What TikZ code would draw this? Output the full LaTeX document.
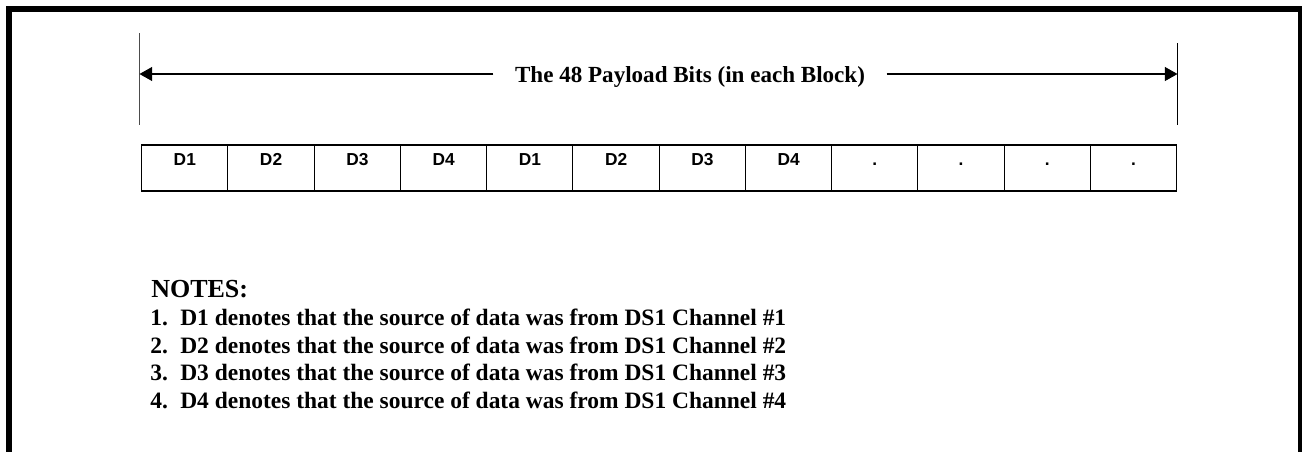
\documentclass[tikz,border=0pt]{standalone}
\usepackage{fontspec}
\setmainfont{Liberation Serif}
\newfontfamily\arialfont{Liberation Sans}
\usetikzlibrary{arrows.meta}
\begin{document}
\begin{tikzpicture}[x=0.75pt,y=-0.75pt,
  frame/.style={line width=4.5pt},
  tick/.style={line width=1pt},
  dimline/.style={line width=0.8pt},
  tip/.style={-{Triangle[length=9.5pt,width=10.5pt]}},
  cell/.style={draw,line width=0.8pt,minimum width=64.6875pt,minimum height=34.5pt,inner sep=0pt,outer sep=0pt},
  lab/.style={font=\arialfont\bfseries\fontsize{13}{15}\selectfont,anchor=base,inner sep=0pt},
  title/.style={font=\bfseries\fontsize{17.3}{20}\selectfont,anchor=base,inner xsep=16pt,inner ysep=0pt},
  notehead/.style={font=\bfseries\fontsize{19.5}{22}\selectfont,anchor=base west,inner sep=0pt},
  note/.style={font=\bfseries\fontsize{17.6}{20}\selectfont,anchor=base west,inner sep=0pt}]
\useasboundingbox (0,0) rectangle (1302,451);
\clip (0,0) rectangle (1302,451);
% outer frame
\draw[frame] (9,9) rectangle (1301,480);
% extent ticks
\coordinate (lt) at (139.5,33);
\coordinate (lb) at (139.5,125);
\coordinate (rt) at (1177.5,43);
\coordinate (rb) at (1177.5,125);
\coordinate (la) at (139.5,74);
\coordinate (ra) at (1177.5,74);
\draw[tick,black!70] (lt) -- (lb);
\draw[tick] (rt) -- (rb);
% title with dimension arrows
\node[title] (ttl) at (690,82.7) {The 48 Payload Bits (in each Block)};
\draw[dimline,tip] (ttl.west |- la) -- (la);
\draw[dimline,tip] (ttl.east |- ra) -- (ra);
% cells
\foreach \i/\t in {1/D1,2/D2,3/D3,4/D4,5/D1,6/D2,7/D3,8/D4,9/.,10/.,11/.,12/.}{
  \node[cell] (c\i) at ({141.7+86.25*(\i-0.5)},168) {};
  \node[lab] (l\i) at ({141.7+86.25*(\i-0.5)},165) {\t};
}
% notes
\node[notehead] (nh) at (151,297.7) {NOTES:};
\foreach \i/\y in {1/325.3,2/353,3/380.7,4/408.4}{
  \node[note] (n\i) at (150,\y) {\i.};
  \node[note] (t\i) at (180,\y) {D\i{} denotes that the source of data was from DS1 Channel \#\i};
}
\end{tikzpicture}
\end{document}
